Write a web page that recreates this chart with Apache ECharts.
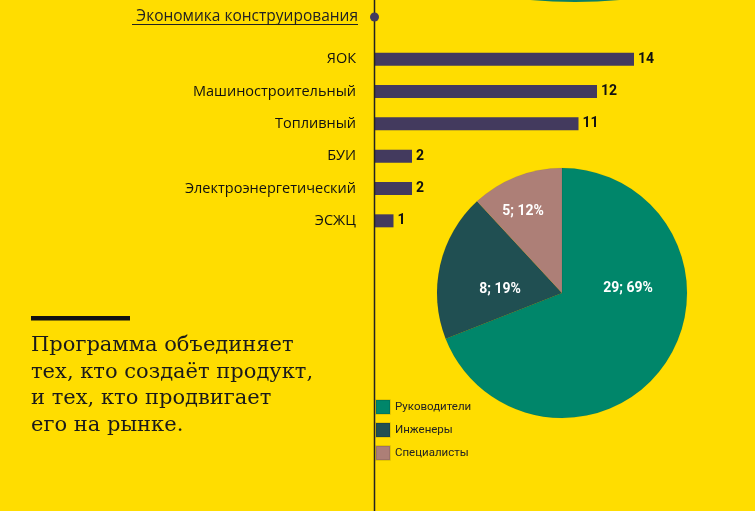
<!DOCTYPE html>
<html><head><meta charset="utf-8">
<script src="https://cdn.jsdelivr.net/npm/echarts@6/dist/echarts.min.js"></script>
<style>html,body{margin:0;padding:0;background:#FFDD00}#c{width:755px;height:511px}</style>
</head><body><div id="c"></div>
<script>
const barCategories = ['ЯОК', 'Машиностроительный', 'Топливный', 'БУИ', 'Электроэнергетический', 'ЭСЖЦ'];
const barValues = [14, 12, 11, 2, 2, 1];
const pieNames = ['Руководители', 'Инженеры', 'Специалисты'];
const pieValues = [29, 8, 5];
const piePercents = [69, 19, 12];
const pieColors = ['#00866A', '#204F52', '#AD7F77'];
const titleText = 'Экономика конструирования';
const quoteText = 'Программа объединяет\nтех, кто создаёт продукт,\nи тех, кто продвигает\nего на рынке.';

const chart = echarts.init(document.getElementById('c'), null, {renderer: 'canvas'});
const labelShift = [[12, -41], [2, 11], [-15, -21]];
chart.setOption({
  backgroundColor: '#FFDD00',
  animation: false,
  title: {
    text: titleText, left: 358, top: 8.5, textAlign: 'right', padding: 0,
    textStyle: {fontFamily: 'Open Sans', fontSize: 15.5, fontWeight: 'normal', color: '#222'}
  },
  grid: {left: 375, top: 43, width: 259, height: 194, containLabel: false},
  xAxis: {type: 'value', min: 0, max: 14, show: false},
  yAxis: {
    type: 'category', data: barCategories, inverse: true,
    axisLine: {show: false}, axisTick: {show: false},
    axisLabel: {margin: 19, fontFamily: 'Open Sans', fontSize: 14.5, color: '#111'}
  },
  legend: {
    orient: 'vertical', left: 375, top: 399, padding: 0, itemWidth: 14, itemHeight: 14, itemGap: 7,
    icon: 'rect', data: pieNames,
    textStyle: {fontFamily: 'Roboto', fontSize: 11.5, color: '#222', padding: [0,0,0,0]}
  },
  series: [
    {
      type: 'bar', data: barValues, barWidth: 13, itemStyle: {color: '#433A5E'},
      label: {show: true, position: 'right', distance: 4, fontFamily: 'Roboto',
        fontWeight: 'bold', fontSize: 14, color: '#111'}
    },
    {
      type: 'pie', center: [562, 293], radius: [0, 125], startAngle: 90, clockwise: true,
      data: pieNames.map((n, i) => ({name: n, value: pieValues[i], itemStyle: {color: pieColors[i]}})),
      itemStyle: {borderColor: 'rgba(0,0,0,0.1)', borderWidth: 0.5},
      label: {
        show: true, position: 'inside', color: '#fff', fontWeight: 'bold', fontSize: 14,
        fontFamily: 'Roboto',
        formatter: p => pieValues[p.dataIndex] + '; ' + piePercents[p.dataIndex] + '%'
      },
      labelLayout: p => ({dx: labelShift[p.dataIndex][0], dy: labelShift[p.dataIndex][1]}),
      emphasis: {disabled: true}
    }
  ],
  graphic: [
    {type: 'circle', shape: {cx: 575, cy: -498, r: 500}, style: {fill: '#0E7E63'}, z: 0},
    {type: 'line', shape: {x1: 374.5, y1: 0, x2: 374.5, y2: 511}, style: {stroke: '#222', lineWidth: 1.5}, z: 10},
    {type: 'circle', shape: {cx: 374.5, cy: 17, r: 4.5}, style: {fill: '#433A5E'}, z: 11},
    {type: 'line', shape: {x1: 132, y1: 24.5, x2: 358, y2: 24.5}, style: {stroke: '#222', lineWidth: 1}},
    {type: 'rect', shape: {x: 31, y: 316, width: 99, height: 4.5}, style: {fill: '#111'}},
    {type: 'text', left: 31, top: 332, style: {text: quoteText, fontFamily: 'DejaVu Serif', fontSize: 21,
      lineHeight: 26.7, fill: '#1a1a1a'}}
  ]
});
</script></body></html>
